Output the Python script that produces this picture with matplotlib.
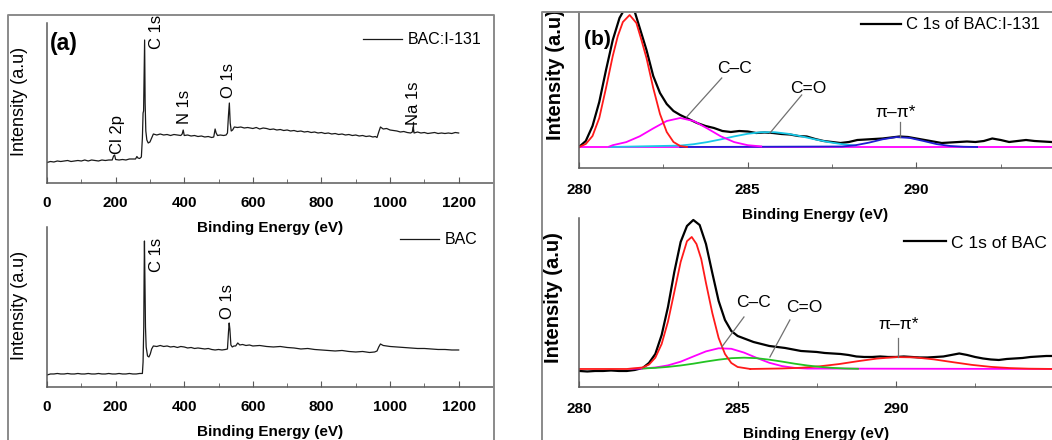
import matplotlib
matplotlib.use('Agg')
import matplotlib.pyplot as plt
from matplotlib.lines import Line2D

plt.rcParams['font.family'] = ['Liberation Sans', 'DejaVu Sans']

# ---- panel (a): XPS survey spectra (intensity in arbitrary units) ----
survey_ticks = [0, 200, 400, 600, 800, 1000, 1200]
survey_minor = [100, 300, 500, 700, 900, 1100, 1300]

bac_i131_energy = [0, 10, 20, 30, 40, 50, 60, 70, 80, 90, 100, 110, 120, 130, 140, 150, 160, 170, 180, 190,
                   194, 197, 200, 210, 220, 230, 240, 250, 258, 262, 265, 270, 275, 278, 280, 281.5, 283, 284.5,
                   286, 288, 291, 295, 300, 305, 310, 320, 330, 340, 350, 360, 370, 380, 390, 394, 397, 400,
                   410, 420, 430, 440, 450, 460, 470, 480, 486, 490, 493, 497, 505, 515, 522, 526, 529, 531.5,
                   534, 537, 541, 546, 555, 565, 575, 585, 600, 610, 620, 630, 640, 650, 660, 670, 680, 690,
                   700, 710, 720, 730, 740, 750, 760, 770, 780, 790, 800, 810, 820, 830, 840, 850, 860, 870,
                   880, 890, 900, 910, 920, 930, 940, 950, 957, 962, 967, 972, 980, 990, 1000, 1010, 1020,
                   1030, 1040, 1050, 1060, 1065, 1067, 1070, 1080, 1090, 1100, 1110, 1120, 1130, 1140, 1150,
                   1160, 1170, 1180, 1190, 1200]
bac_i131_counts = [20.5, 21.5, 21, 22, 21.5, 22, 22.5, 21.5, 22, 22.5, 22, 23, 22, 23, 22.5, 22, 23, 22.5, 23, 23,
                   27, 28, 23.5, 23, 23.5, 23, 24, 24, 24, 26.5, 25, 24.5, 26, 45, 70, 72, 105, 143,
                   80, 52, 43, 40, 41, 45, 49, 48, 49, 48, 48.5, 47.5, 48.5, 48, 47.5, 49, 53, 47.5,
                   48, 47, 47.5, 46.5, 47, 46, 46.5, 45.5, 46, 54, 50, 47.5, 48, 47.5, 48, 50, 68, 80,
                   60, 52, 53, 56, 55.5, 56, 55, 55.5, 54.5, 55.5, 54, 55, 54.5, 53.5, 54, 53, 53.5, 52.5,
                   53, 52, 52.5, 51.5, 52, 51, 51.5, 50.5, 51, 50, 50.5, 49.5, 50, 49, 49.5, 48.5, 49, 48,
                   48.5, 47.5, 48, 47, 47.5, 46.5, 47, 46, 46.5, 45.5, 51, 56, 54, 54.5, 53, 52.5, 52,
                   51, 51.5, 50.5, 50, 51, 56, 50, 51, 50, 50.5, 49.5, 50, 50.5, 49.5, 50,
                   49.5, 50, 49.5, 50.5, 50]

bac_energy = [0, 10, 20, 30, 40, 50, 60, 70, 80, 90, 100, 110, 120, 130, 140, 150, 160, 170, 180, 190, 200,
              210, 220, 230, 240, 250, 260, 270, 278, 280, 282, 283, 284, 285.5, 287, 289, 293, 297, 301, 305,
              310, 320, 330, 340, 350, 360, 370, 380, 390, 400, 410, 420, 430, 440, 450, 460, 470, 480, 490,
              500, 510, 520, 526, 529, 531, 533, 536, 540, 545, 550, 556, 562, 570, 580, 590, 600, 620, 640,
              660, 680, 700, 720, 740, 760, 780, 800, 820, 840, 860, 880, 900, 920, 940, 955, 962, 967, 972,
              980, 990, 1000, 1020, 1040, 1060, 1080, 1100, 1120, 1140, 1160, 1180, 1200]
bac_counts = [12, 13, 13, 13.5, 13, 13, 13.5, 13, 13, 13.5, 13, 13, 13.5, 13, 13, 13.5, 13, 13, 13.5, 13, 13,
              13.5, 13, 13, 13.5, 13, 13, 13.5, 13.5, 25, 60, 110, 146, 105, 60, 40, 31, 30, 33, 38,
              41, 40.5, 41.5, 40.5, 41, 40, 40.5, 39.5, 40.5, 40, 39, 39.5, 38.5, 39, 38.5, 38, 38.5, 37.5, 37,
              37.5, 37, 37.5, 38, 55, 64, 58, 42, 40, 41, 41, 44, 42, 42.5, 41.5, 42, 41, 41.5, 40.5,
              40, 40.5, 39.5, 39, 38, 38.5, 37.5, 37, 36.5, 36, 36.5, 35.5, 35, 35.5, 34.5, 35, 36, 40, 43,
              41.5, 41, 40.5, 40, 39.5, 39, 38.5, 38.5, 38, 37.5, 37.5, 37, 37]

# peak labels: (text, energy, intensity)
bac_i131_peaks = [('Cl 2p', 204, 49), ('C 1s', 320, 151), ('N 1s', 402, 76), ('O 1s', 530, 103), ('Na 1s', 1069, 80)]
bac_peaks = [('C 1s', 320, 132), ('O 1s', 527, 85)]

# ---- panel (b): C 1s high resolution spectra ----
c1s_ticks = [280, 285, 290]
c1s_minor = [282.5, 287.5, 292.5]

i131_be = [280.0, 280.2, 280.4, 280.6, 280.8, 281.0, 281.2, 281.4, 281.6, 281.8, 282.0, 282.2, 282.4, 282.6,
           282.8, 283.0, 283.25, 283.5, 283.75, 284.0, 284.25, 284.5, 284.75, 285.0, 285.25, 285.5, 285.75,
           286.0, 286.25, 286.5, 286.75, 287.0, 287.25, 287.5, 287.75, 288.0, 288.25, 288.5, 288.75, 289.0,
           289.25, 289.5, 289.75, 290.0, 290.25, 290.5, 290.75, 291.0, 291.25, 291.5, 291.75, 292.0, 292.25,
           292.5, 292.75, 293.0, 293.25, 293.5, 293.75, 294.0]
i131_int = [21, 27, 42, 66, 98, 128, 150, 162, 162, 140, 118, 92, 75, 64,
            57, 53, 49, 45, 42, 40, 37, 36, 37, 36.5, 35, 35.5, 35,
            34, 33.5, 32, 31.5, 29, 27, 26, 25, 26, 28, 28.5, 29, 29.5,
            30.5, 31.5, 31, 29.5, 28, 26.5, 25, 25.5, 26, 26.5, 26, 27, 29.5,
            28, 26, 27, 28, 27, 26.5, 26]
i131_base = 21
i131_sp2_be = [280.0, 280.2, 280.4, 280.6, 280.8, 281.0, 281.15, 281.3, 281.5, 281.7, 281.85, 282.0, 282.2,
               282.4, 282.6, 282.8, 283.0, 283.2]
i131_sp2 = [21, 24, 32, 50, 80, 112, 132, 146, 153, 145, 128, 110, 80, 54, 36, 26, 22, 21]
i131_cc_be = [280.9, 281.0, 281.4, 281.8, 282.2, 282.6, 283.0, 283.4, 283.8, 284.2, 284.6, 285.0, 285.4]
i131_cc = [21.5, 22.8, 25.9, 31.7, 39.6, 47, 50, 47, 39.6, 31.7, 25.9, 22.8, 21.6]
i131_co_be = [280.9, 283.0, 283.4, 283.8, 284.2, 284.6, 285.0, 285.4, 285.8, 286.2, 286.6, 287.0, 287.4,
              287.8, 288.2]
i131_co = [21, 22.4, 23.8, 25.9, 28.6, 31.6, 34.2, 35.8, 35.8, 34.2, 31.6, 28.6, 25.9, 23.8, 22.4]
i131_pi_be = [283.0, 287.8, 288.2, 288.6, 289.0, 289.4, 289.8, 290.2, 290.6, 291.0, 291.4, 291.8]
i131_pi = [21, 21.5, 22.8, 25.4, 28.7, 30.9, 30.1, 27.1, 23.9, 22.0, 21.25, 21]

bac_be = [280.0, 280.25, 280.5, 280.75, 281.0, 281.25, 281.5, 281.75, 282.0, 282.2, 282.4, 282.6, 282.8,
          283.0, 283.2, 283.4, 283.6, 283.8, 284.0, 284.2, 284.4, 284.6, 284.8, 285.0, 285.25, 285.5, 285.75,
          286.0, 286.25, 286.5, 286.75, 287.0, 287.25, 287.5, 287.75, 288.0, 288.25, 288.5, 288.75, 289.0,
          289.25, 289.5, 289.75, 290.0, 290.25, 290.5, 290.75, 291.0, 291.25, 291.5, 291.75, 292.0, 292.25,
          292.5, 292.75, 293.0, 293.25, 293.5, 293.75, 294.0, 294.25, 294.5, 294.75, 295.0]
bac_int = [16, 15.5, 16, 16, 16.5, 16, 16, 17, 19, 24, 33, 52, 80,
           115, 145, 161, 167, 162, 143, 114, 86, 67, 56, 51, 48, 45, 43,
           41, 40, 39, 37.5, 36, 35.5, 35, 34, 33.5, 33, 32, 30.5, 30,
           30, 30.5, 30, 30, 30.5, 30, 29.5, 29.5, 30, 30.5, 32, 33.5, 32,
           30, 28.5, 27.5, 27, 28, 28.5, 29, 30, 30.5, 31, 31]
bac_sp2_be = [280.0, 281.5, 282.0, 282.2, 282.4, 282.6, 282.8, 283.0, 283.2, 283.4, 283.55, 283.7, 283.85,
              284.0, 284.2, 284.4, 284.6, 284.8, 285.0, 285.4]
bac_sp2 = [18, 18, 19.5, 22.4, 29.3, 43, 65.4, 95, 125, 145.8, 150, 143, 128, 104, 74, 49, 33, 24, 20, 18]
bac_cc_be = [281.6, 282.0, 282.4, 282.8, 283.2, 283.6, 284.0, 284.4, 284.8, 285.2, 285.6, 286.0, 286.4,
             286.8, 287.2, 295.0]
bac_cc = [18.1, 18.5, 19.5, 21.6, 25.3, 30.5, 35.6, 38.7, 38.2, 34.4, 29.1, 24.2, 20.9, 19.1, 18.4, 18]
bac_co_be = [282.0, 282.4, 282.8, 283.2, 283.6, 284.0, 284.4, 284.8, 285.2, 285.6, 286.0, 286.4, 286.8,
             287.2, 287.6, 288.0, 288.4, 288.8]
bac_co = [18.5, 19.1, 20.1, 21.5, 23.3, 25.4, 27.3, 28.8, 29.3, 28.8, 27.3, 25.4, 23.3, 21.5, 20.1, 19.1,
          18.5, 18.2]
bac_pi_be = [285.4, 285.8, 286.4, 287.0, 287.6, 288.2, 288.8, 289.4, 290.0, 290.6, 291.2, 291.8, 292.4,
             293.0, 293.6, 294.2, 295.0]
bac_pi = [18, 18.2, 18.5, 19.2, 20.7, 22.9, 25.8, 28.4, 29.9, 29.6, 27.6, 24.8, 22.1, 20.1, 18.9, 18.3, 18]

# annotations: (text, label xy, line start, line end)
i131_notes = [('C\u2013C', (284.6, 100), (284.23, 90), (283.19, 51)),
              ('C=O', (286.8, 80), (286.6, 73), (285.66, 35)),
              ('\u03c0\u2013\u03c0*', (289.4, 55), (289.5, 46), (289.5, 31))]
bac_notes = [('C\u2013C', (285.5, 84), (285.2, 70), (284.5, 40)),
             ('C=O', (287.1, 79), (286.65, 67), (286.02, 30)),
             ('\u03c0\u2013\u03c0*', (290.1, 62), (290.05, 49), (290.05, 30))]

SPINE = '#5a5a5a'


def style(ax, ticks, minor, pad):
    ax.patch.set_alpha(0)
    for s in ['top', 'right']:
        ax.spines[s].set_visible(False)
    for s in ['left', 'bottom']:
        ax.spines[s].set_color(SPINE)
        ax.spines[s].set_linewidth(1.1)
    ax.set_yticks([])
    ax.set_xticks(ticks)
    ax.set_xticklabels([str(t) for t in ticks], fontweight='bold', fontsize=11)
    ax.set_xticks(minor, minor=True)
    ax.tick_params(axis='x', which='both', direction='in', color=SPINE, pad=pad)
    ax.tick_params(axis='x', which='major', length=4)
    ax.tick_params(axis='x', which='minor', length=3)
    ax.set_xlabel('Binding Energy (eV)', fontweight='bold', fontsize=11, labelpad=8)


fig = plt.figure(figsize=(10.52, 4.40), dpi=100)

# panel frames
fig.add_artist(Line2D([0.0076, 0.0076, 0.4696, 0.4696], [-0.1, 0.966, 0.966, -0.1],
                      transform=fig.transFigure, color='#8a8a8a', lw=1.4))
fig.add_artist(Line2D([0.5152, 0.5152, 1.1], [-0.1, 0.9727, 0.9727],
                      transform=fig.transFigure, color='#8a8a8a', lw=1.4))

ax1 = fig.add_axes([0.0447, 0.5841, 0.4239, 0.3636])
ax2 = fig.add_axes([0.0447, 0.1205, 0.4239, 0.3636])
ax3 = fig.add_axes([0.5504, 0.6182, 0.4496, 0.3545])
ax4 = fig.add_axes([0.5507, 0.1205, 0.4493, 0.3841])

# (a) survey
ax1.plot(bac_i131_energy, bac_i131_counts, color='#1a1a1a', lw=0.9, label='BAC:I-131')
ax2.plot(bac_energy, bac_counts, color='#1a1a1a', lw=0.9, label='BAC')
for ax in (ax1, ax2):
    ax.set_xlim(0, 1300)
    ax.set_ylim(0, 160)
    style(ax, survey_ticks, survey_minor, 9.5)
    ax.set_ylabel('Intensity (a.u)', fontsize=13)
ax1.yaxis.set_label_coords(-0.043, 0.51)
ax2.yaxis.set_label_coords(-0.043, 0.51)

for ax, peaks in ((ax1, bac_i131_peaks), (ax2, bac_peaks)):
    for name, e, v in peaks:
        ax.text(e, v, name, rotation=90, ha='center', va='center', fontsize=12, clip_on=False)
ax1.plot([1068, 1068], [61, 52], color='#1a1a1a', lw=0.9)

ax1.legend(loc='center right', bbox_to_anchor=(0.975, 0.894), frameon=False, fontsize=11.5,
           borderpad=0, borderaxespad=0, handlelength=2.4, handletextpad=0.4)
ax2.legend(loc='center right', bbox_to_anchor=(0.966, 0.919), frameon=False, fontsize=11.5,
           borderpad=0, borderaxespad=0, handlelength=2.4, handletextpad=0.4)
ax1.text(0.007, 0.87, '(a)', transform=ax1.transAxes, fontsize=16.5, fontweight='bold', va='center')

# (b) C 1s
ax3.plot(i131_be, i131_int, color='black', lw=1.6, label='C 1s of BAC:I-131')
ax3.axhline(i131_base, color='#ff00ff', lw=1.3)
ax3.plot(i131_co_be, i131_co, color='#19c8e8', lw=1.3)
ax3.plot(i131_pi_be, i131_pi, color='#1f1fd0', lw=1.3)
ax3.plot(i131_cc_be, i131_cc, color='#ff00ff', lw=1.3)
ax3.plot(i131_sp2_be, i131_sp2, color='#ff1a1a', lw=1.3)
ax3.set_xlim(280, 294.02)
ax3.set_ylim(0, 156)

ax4.plot(bac_be, bac_int, color='black', lw=1.6, label='C 1s of BAC')
ax4.plot(bac_cc_be, bac_cc, color='#ff00ff', lw=1.3)
ax4.plot(bac_pi_be, bac_pi, color='#ff1a1a', lw=1.3)
ax4.plot(bac_co_be, bac_co, color='#22c422', lw=1.3)
ax4.plot(bac_sp2_be, bac_sp2, color='#ff1a1a', lw=1.3)
ax4.set_xlim(280, 294.93)
ax4.set_ylim(0, 169)

for ax, notes in ((ax3, i131_notes), (ax4, bac_notes)):
    style(ax, c1s_ticks, c1s_minor, 11)
    ax.set_ylabel('Intensity (a.u)', fontsize=14.5, fontweight='bold')
    for name, lab, p0, p1 in notes:
        ax.plot([p0[0], p1[0]], [p0[1], p1[1]], color='#707070', lw=0.9)
        ax.text(lab[0], lab[1], name, ha='center', va='center', fontsize=12.5)
ax3.yaxis.set_label_coords(-0.030, 0.596)
ax4.yaxis.set_label_coords(-0.034, 0.527)

ax3.legend(loc='center right', bbox_to_anchor=(0.975, 0.917), frameon=False, fontsize=12,
           borderpad=0, borderaxespad=0, handlelength=2.4, handletextpad=0.3)
ax4.legend(loc='center right', bbox_to_anchor=(0.989, 0.852), frameon=False, fontsize=12.5,
           borderpad=0, borderaxespad=0, handlelength=2.4, handletextpad=0.3)
ax3.text(0.01, 0.825, '(b)', transform=ax3.transAxes, fontsize=15, fontweight='bold', va='center')

fig.savefig('out.png', dpi=100)
